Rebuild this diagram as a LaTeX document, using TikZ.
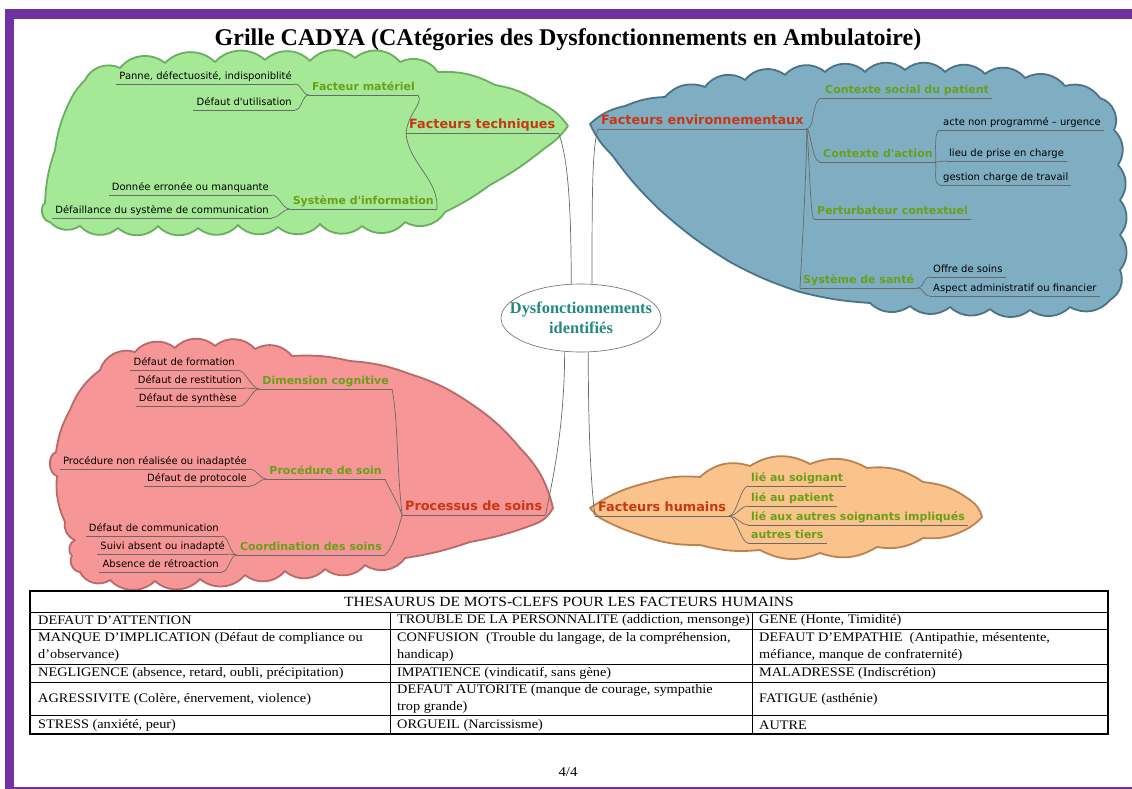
\documentclass[tikz,border=0pt]{standalone}
\usepackage{fontspec}
\setmainfont[FakeStretch=1.1]{Liberation Serif}
\newfontfamily\titlefont{Liberation Serif}
\newfontfamily\mapfont{DejaVu Sans}
\usetikzlibrary{shapes.geometric}
\definecolor{framepurple}{RGB}{112,50,160}
\definecolor{mainred}{RGB}{200,55,20}
\definecolor{subgreen}{RGB}{105,160,25}
\definecolor{hubteal}{RGB}{35,135,130}
\definecolor{linkgray}{RGB}{105,105,105}
\definecolor{greenfill}{RGB}{165,233,150}
\definecolor{greenline}{RGB}{105,175,95}
\definecolor{bluefill}{RGB}{127,174,194}
\definecolor{blueline}{RGB}{75,115,135}
\definecolor{redfill}{RGB}{246,150,150}
\definecolor{redline}{RGB}{185,105,105}
\definecolor{orangefill}{RGB}{250,195,140}
\definecolor{orangeline}{RGB}{185,130,80}
\tikzstyle{main} = [font=\mapfont\bfseries\fontsize{12.8}{15}\selectfont, text=mainred, inner xsep=3pt, inner ysep=1.5pt, text depth=0.25em]
\tikzstyle{sub} = [font=\mapfont\bfseries\fontsize{11}{13}\selectfont, text=subgreen, inner xsep=3pt, inner ysep=1.5pt, text depth=0.25em]
\tikzstyle{item} = [font=\mapfont\fontsize{10}{12}\selectfont, text=black, inner xsep=3pt, inner ysep=1.5pt, text depth=0.25em]
\tikzstyle{link} = [draw=linkgray, line width=0.7pt]
\tikzstyle{hub} = [ellipse, draw=linkgray, line width=0.6pt, minimum width=160pt, minimum height=68pt, inner sep=0pt]
\tikzstyle{cloud} = [line width=1.8pt, line join=round]
\tikzstyle{cell} = [anchor=west, align=left, inner sep=0pt, font=\fontsize{13}{17.5}\selectfont]
\pgfdeclarelayer{background}
\pgfsetlayers{background,main}

\begin{document}
\begin{tikzpicture}[x=1pt, y=-1pt]
    \useasboundingbox (0,0) rectangle (1132,789);

    % Title
    \node[font=\titlefont\bfseries\fontsize{24}{28}\selectfont] (title) at (568,40) {Grille CADYA (CAtégories des Dysfonctionnements en Ambulatoire)};

    % Center
    \node[hub] (dys) at (581,318) {};
    \node[font=\titlefont\bfseries\fontsize{16.4}{19.5}\selectfont, text=hubteal, align=center] (dystext) at (dys) {Dysfonctionnements\\identifiés};

    % Facteurs techniques
    \node[main, anchor=south west] (ft) at (406,133) {Facteurs techniques};
    \node[sub, anchor=south east] (fm) at (418,95) {Facteur matériel};
    \node[item, anchor=south east] (panne) at (295,84) {Panne, défectuosité, indisponiblité};
    \node[item, anchor=south east] (util) at (295,110) {Défaut d'utilisation};
    \node[sub, anchor=south east] (si) at (437,209) {Système d'information};
    \node[item, anchor=south east] (donnee) at (272,195) {Donnée erronée ou manquante};
    \node[item, anchor=south east] (defail) at (272,218) {Défaillance du système de communication};

    % Facteurs environnementaux
    \node[main, anchor=south west] (fe) at (598,129) {Facteurs environnementaux};
    \node[sub, anchor=south west] (social) at (822,98) {Contexte social du patient};
    \node[sub, anchor=south west] (action) at (820,162) {Contexte d'action};
    \node[item, anchor=south west] (acte) at (940,130) {acte non programmé – urgence};
    \node[item, anchor=south west] (lieu) at (946,161) {lieu de prise en charge};
    \node[item, anchor=south west] (gestion) at (940,185) {gestion charge de travail};
    \node[sub, anchor=south west] (perturb) at (814,219) {Perturbateur contextuel};
    \node[sub, anchor=south west] (sante) at (800,288) {Système de santé};
    \node[item, anchor=south west] (offre) at (930,277) {Offre de soins};
    \node[item, anchor=south west] (aspect) at (930,296) {Aspect administratif ou financier};

    % Processus de soins
    \node[main, anchor=south west] (ps) at (402,515) {Processus de soins};
    \node[sub, anchor=south east] (cogn) at (392,389) {Dimension cognitive};
    \node[item, anchor=south east] (form) at (238,370) {Défaut de formation};
    \node[item, anchor=south east] (restit) at (245,388) {Défaut de restitution};
    \node[item, anchor=south east] (synth) at (240,406) {Défaut de synthèse};
    \node[sub, anchor=south east] (proc) at (385,479) {Procédure de soin};
    \node[item, anchor=south east] (nonreal) at (250,469) {Procédure non réalisée ou inadaptée};
    \node[item, anchor=south east] (protoc) at (250,486) {Défaut de protocole};
    \node[sub, anchor=south east] (coord) at (385,555) {Coordination des soins};
    \node[item, anchor=south east] (comm) at (222,536) {Défaut de communication};
    \node[item, anchor=south east] (suivi) at (228,554) {Suivi absent ou inadapté};
    \node[item, anchor=south east] (retro) at (222,572) {Absence de rétroaction};

    % Facteurs humains
    \node[main, anchor=south west] (fh) at (595,516) {Facteurs humains};
    \node[sub, anchor=south west] (lsoin) at (748,486) {lié au soignant};
    \node[sub, anchor=south west] (lpat) at (748,506) {lié au patient};
    \node[sub, anchor=south west] (lautres) at (748,525) {lié aux autres soignants impliqués};
    \node[sub, anchor=south west] (tiers) at (748,543) {autres tiers};

    % Underlines
    \foreach \n in {ft,fm,panne,util,si,donnee,defail,fe,social,action,acte,lieu,gestion,perturb,sante,offre,aspect,ps,cogn,form,restit,synth,proc,nonreal,protoc,coord,comm,suivi,retro,fh,lsoin,lpat,lautres,tiers}
        \path[link] (\n.south west) -- (\n.south east);

    % Links from the center
    \path[link] (dys.106) .. controls +(0,-90) and +(8,20) .. (ft.south east);
    \path[link] (dys.72) .. controls +(0,-90) and +(-6,20) .. (fe.south west);
    \path[link] (dys.244) .. controls +(0,80) and +(5,-25) .. (ps.south east);
    \path[link] (dys.282) .. controls +(0,80) and +(-4,-30) .. (fh.south west);

    % Links, technical
    \path[link] (ft.south west) .. controls +(2,-20) and +(6,8) .. (fm.south east);
    \path[link] (ft.south west) .. controls +(2,30) and +(2,-30) .. (si.south east);
    \path[link] (fm.south west) .. controls +(-7,0) and +(7,0) .. (panne.south east);
    \path[link] (fm.south west) .. controls +(-7,0) and +(7,0) .. (util.south east);
    \path[link] (si.south west) .. controls +(-7,0) and +(7,0) .. (donnee.south east);
    \path[link] (si.south west) .. controls +(-7,0) and +(7,0) .. (defail.south east);

    % Links, environment
    \path[link] (fe.south east) .. controls +(8,0) and +(-10,0) .. (social.south west);
    \path[link] (fe.south east) .. controls +(4,0) and +(-8,0) .. (action.south west);
    \path[link] (fe.south east) .. controls +(2,10) and +(-4,0) .. (perturb.south west);
    \path[link] (fe.south east) .. controls +(0,40) and +(2,-40) .. (sante.south west);
    \path[link] (action.south east) .. controls +(0,-12) and +(-6,0) .. (acte.south west);
    \path[link] (action.south east) .. controls +(4,0) and +(-4,0) .. (lieu.south west);
    \path[link] (action.south east) .. controls +(0,12) and +(-6,0) .. (gestion.south west);
    \path[link] (sante.south east) .. controls +(7,0) and +(-7,0) .. (offre.south west);
    \path[link] (sante.south east) .. controls +(7,0) and +(-7,0) .. (aspect.south west);

    % Links, care process
    \path[link] (ps.south west) .. controls +(-6,-60) and +(6,30) .. (cogn.south east);
    \path[link] (ps.south west) .. controls +(-5,-15) and +(5,12) .. (proc.south east);
    \path[link] (ps.south west) .. controls +(-5,20) and +(6,-5) .. (coord.south east);
    \path[link] (cogn.south west) .. controls +(-7,0) and +(7,0) .. (form.south east);
    \path[link] (cogn.south west) .. controls +(-3,0) and +(3,0) .. (restit.south east);
    \path[link] (cogn.south west) .. controls +(-7,0) and +(7,0) .. (synth.south east);
    \path[link] (proc.south west) .. controls +(-7,0) and +(7,0) .. (nonreal.south east);
    \path[link] (proc.south west) .. controls +(-7,0) and +(7,0) .. (protoc.south east);
    \path[link] (coord.south west) .. controls +(-7,0) and +(7,0) .. (comm.south east);
    \path[link] (coord.south west) .. controls +(-2,0) and +(2,0) .. (suivi.south east);
    \path[link] (coord.south west) .. controls +(-7,0) and +(7,0) .. (retro.south east);

    % Links, human factors
    \path[link] (fh.south east) .. controls +(7,0) and +(-7,0) .. (lsoin.south west);
    \path[link] (fh.south east) .. controls +(7,0) and +(-7,0) .. (lpat.south west);
    \path[link] (fh.south east) .. controls +(7,0) and +(-7,0) .. (lautres.south west);
    \path[link] (fh.south east) .. controls +(7,0) and +(-7,0) .. (tiers.south west);

    % Table
    \draw[line width=1.3pt] (30,591) rectangle (1108,734);
    \foreach \y in {612,629,664,682,715}
        \draw[line width=0.9pt] (30,\y) -- (1108,\y);
    \foreach \x in {390,752}
        \draw[line width=0.9pt] (\x,612) -- (\x,734);
    \node[font=\fontsize{14.1}{16}\selectfont] (thes) at (569,602) {THESAURUS DE MOTS-CLEFS POUR LES FACTEURS HUMAINS};
    \node[cell] (c11) at (38,620) {DEFAUT D'ATTENTION};
    \node[cell] (c12) at (397,620) {TROUBLE DE LA PERSONNALITE (addiction, mensonge)};
    \node[cell] (c13) at (759,620) {GENE (Honte, Timidité)};
    \node[cell] (c21) at (38,647) {MANQUE D'IMPLICATION (Défaut de compliance ou\\d'observance)};
    \node[cell] (c22) at (397,647) {CONFUSION\ \ (Trouble du langage, de la compréhension,\\handicap)};
    \node[cell] (c23) at (759,647) {DEFAUT D'EMPATHIE\ \ (Antipathie, mésentente,\\méfiance, manque de confraternité)};
    \node[cell] (c31) at (38,673) {NEGLIGENCE (absence, retard, oubli, précipitation)};
    \node[cell] (c32) at (397,673) {IMPATIENCE (vindicatif, sans gène)};
    \node[cell] (c33) at (759,673) {MALADRESSE (Indiscrétion)};
    \node[cell] (c41) at (38,699) {AGRESSIVITE (Colère, énervement, violence)};
    \node[cell] (c42) at (397,699) {DEFAUT AUTORITE (manque de courage, sympathie\\trop grande)};
    \node[cell] (c43) at (759,699) {FATIGUE (asthénie)};
    \node[cell] (c51) at (38,725) {STRESS (anxiété, peur)};
    \node[cell] (c52) at (397,725) {ORGUEIL (Narcissisme)};
    \node[cell] (c53) at (759,725) {AUTRE};

    \node[font=\fontsize{13.5}{15}\selectfont] (page) at (568,772) {4/4};

    % Frame and clouds behind everything
    \begin{pgfonlayer}{background}
        \fill[framepurple] (5,9) rectangle (1132,19);
        \fill[framepurple] (5,9) rectangle (14,789);
        \draw[framepurple, line width=1.5pt] (5,788) -- (1132,788);

        \path[cloud, fill=greenfill, draw=greenline] (85,80)
            to[bend left=45] (120,68) to[bend left=45] (165,63) to[bend left=45] (215,62)
            to[bend left=45] (265,60) to[bend left=45] (310,61) to[bend left=45] (355,58)
            to[bend left=45] (400,62) to[bend left=40] (438,72)
            to[bend left=15] (495,85) to[bend left=12] (540,103) to[bend left=15] (568,126)
            to[bend left=10] (545,148) to[bend left=5] (490,185) to[bend left=5] (445,212)
            to[bend left=45] (405,222) to[bend left=45] (362,226) to[bend left=45] (320,224)
            to[bend left=45] (278,227) to[bend left=45] (238,225) to[bend left=45] (198,228)
            to[bend left=45] (158,226) to[bend left=45] (118,228) to[bend left=45] (80,226)
            to[bend left=40] (50,222) to[bend left=70] (45,203)
            to[bend left=8] (55,150) to[bend left=8] (68,105) to[bend left=10] (85,80) -- cycle;

        \path[cloud, fill=bluefill, draw=blueline] (590,124)
            to[bend left=15] (625,106) to[bend left=10] (665,97) to[bend left=35] (705,87)
            to[bend left=45] (745,80) to[bend left=45] (785,75) to[bend left=45] (825,72)
            to[bend left=45] (865,72) to[bend left=45] (905,70) to[bend left=45] (945,72)
            to[bend left=45] (985,74) to[bend left=45] (1025,78) to[bend left=40] (1065,86)
            to[bend left=35] (1100,98) to[bend left=50] (1114,130)
            to[bend left=40] (1118,165) to[bend left=40] (1120,200) to[bend left=40] (1120,235)
            to[bend left=40] (1120,270) to[bend left=40] (1110,300)
            to[bend left=40] (1070,307) to[bend left=40] (1030,310) to[bend left=40] (990,309)
            to[bend left=40] (950,307) to[bend left=40] (910,306) to[bend left=40] (870,303)
            to[bend left=5] (800,292) to[bend left=5] (730,262) to[bend left=5] (660,210)
            to[bend left=5] (612,155) to[bend left=10] (590,124) -- cycle;

        \path[cloud, fill=redfill, draw=redline] (56,452)
            to[bend left=10] (70,410) to[bend left=15] (100,370) to[bend left=45] (135,352)
            to[bend left=45] (175,348) to[bend left=45] (215,346) to[bend left=45] (255,349)
            to[bend left=40] (292,356)
            to[bend left=8] (350,361) to[bend left=8] (410,374) to[bend left=8] (470,403)
            to[bend left=8] (520,448) to[bend left=15] (553,508)
            to[bend left=20] (535,524) to[bend left=5] (470,542) to[bend left=5] (405,558)
            to[bend left=45] (365,565) to[bend left=45] (325,569) to[bend left=45] (285,571)
            to[bend left=45] (245,575) to[bend left=45] (200,579) to[bend left=45] (155,581)
            to[bend left=45] (110,580) to[bend left=50] (80,572)
            to[bend left=60] (72,556) to[bend left=60] (75,540) to[bend left=40] (65,522)
            to[bend left=8] (57,495) to[bend left=5] (57,476) to[bend left=70] (56,452) -- cycle;

        \path[cloud, fill=orangefill, draw=orangeline] (590,508)
            to[bend left=10] (650,482) to[bend left=10] (700,477) to[bend left=30] (750,466)
            to[bend left=30] (810,464) to[bend left=25] (867,468) to[bend left=20] (923,482)
            to[bend left=15] (970,500) to[bend left=20] (982,517)
            to[bend left=10] (965,530) to[bend left=15] (923,538) to[bend left=20] (877,547)
            to[bend left=25] (820,553) to[bend left=25] (760,550) to[bend left=10] (700,545)
            to[bend left=10] (640,535) to[bend left=5] (600,518) to[bend left=5] (590,508) -- cycle;
    \end{pgfonlayer}
\end{tikzpicture}
\end{document}
